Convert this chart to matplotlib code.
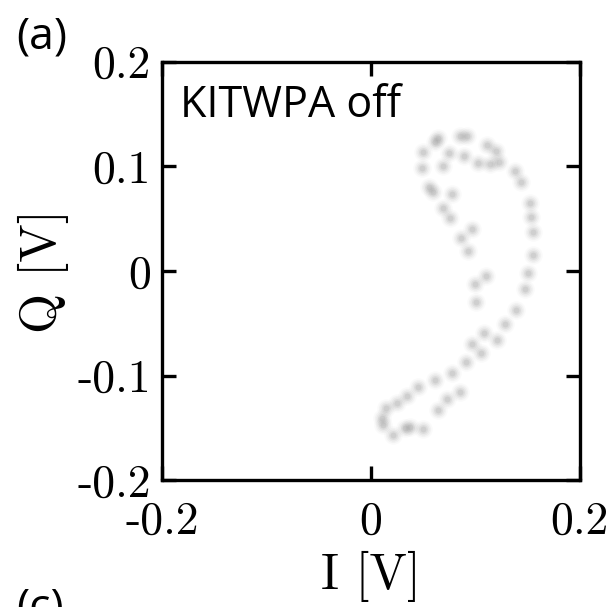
import matplotlib
matplotlib.use('Agg')
import matplotlib.pyplot as plt

# I/Q points [V]
I_vals = [0.064, 0.061, 0.085, 0.092, 0.050, 0.075, 0.089, 0.111, 0.120, 0.103,
          0.114, 0.123, 0.138, 0.144, 0.049, 0.069, 0.056, 0.059, 0.078, 0.069,
          0.076, 0.152, 0.153, 0.155, 0.097, 0.086, 0.093, 0.155, 0.150, 0.110,
          0.100, 0.148, 0.101, 0.139, 0.128, 0.108, 0.121, 0.097, 0.105, 0.091,
          0.078, 0.085, 0.061, 0.073, 0.045, 0.064, 0.035, 0.025, 0.014, 0.011,
          0.012, 0.021, 0.033, 0.037, 0.050]
Q_vals = [0.127, 0.123, 0.129, 0.129, 0.114, 0.113, 0.110, 0.121, 0.115, 0.103,
          0.102, 0.104, 0.096, 0.085, 0.099, 0.100, 0.080, 0.076, 0.074, 0.060,
          0.051, 0.065, 0.052, 0.037, 0.040, 0.032, 0.019, 0.015, -0.002, -0.005,
          -0.012, -0.017, -0.030, -0.037, -0.051, -0.059, -0.066, -0.070, -0.078, -0.087,
          -0.098, -0.116, -0.104, -0.122, -0.111, -0.133, -0.120, -0.126, -0.131, -0.141,
          -0.147, -0.157, -0.150, -0.149, -0.151]

xticks = [-0.2, 0, 0.2]
xtick_labels = ['-0.2', '0', '0.2']
yticks = [-0.2, -0.1, 0, 0.1, 0.2]
ytick_labels = ['-0.2', '-0.1', '0', '0.1', '0.2']

fig = plt.figure(figsize=(6.09, 6.07), dpi=100)
ax = fig.add_axes([0.266, 0.209, 0.686, 0.689])

# blurry dots: stacked markers with low alpha
for s, a in [(180, 0.04), (120, 0.06), (75, 0.08), (42, 0.11), (18, 0.14)]:
    ax.scatter(I_vals, Q_vals, s=s, color='#808080', alpha=a, linewidths=0)

ax.set_xlim(-0.2, 0.2)
ax.set_ylim(-0.2, 0.2)
ax.set_xticks(xticks)
ax.set_xticklabels(xtick_labels, fontfamily='cmr10', fontsize=33)
ax.set_yticks(yticks)
ax.set_yticklabels(ytick_labels, fontfamily='cmr10', fontsize=33)
ax.tick_params(direction='in', length=10, width=2.4, top=True, right=True)
ax.tick_params(axis='x', pad=15)
ax.tick_params(axis='y', pad=8)
for sp in ax.spines.values():
    sp.set_linewidth(2.4)

ax.set_xlabel('I [V]', fontfamily='cmr10', fontsize=36, labelpad=6)
ax.set_ylabel('Q [V]', fontfamily='cmr10', fontsize=37, labelpad=6)

ax.text(0.043, 0.868, 'KITWPA off', transform=ax.transAxes, fontfamily='Open Sans',
        fontsize=31, va='baseline')
fig.text(0.026, 0.975, '(a)', fontfamily='Open Sans', fontsize=32, va='top')
fig.text(0.026, -0.02, '(c)', fontfamily='Open Sans', fontsize=32)

fig.savefig('out.png', dpi=100)
